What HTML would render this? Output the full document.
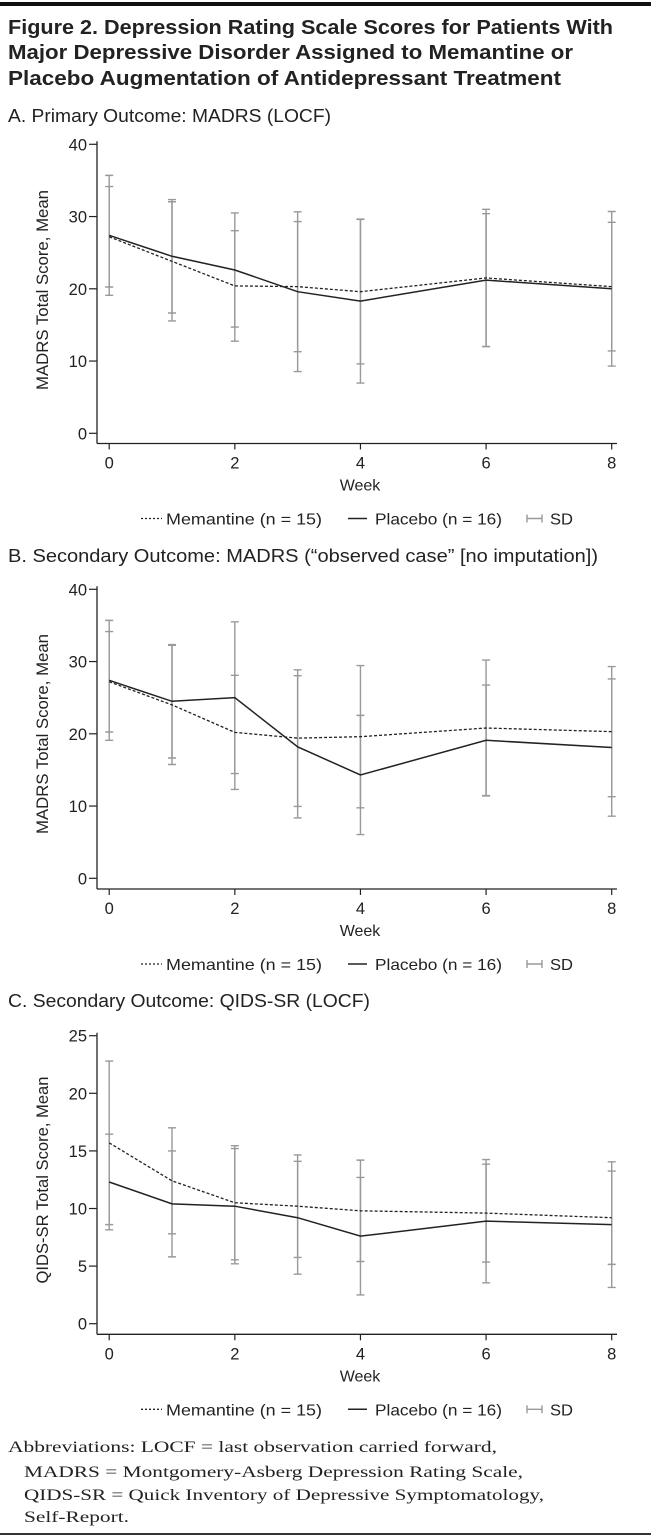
<!DOCTYPE html>
<html><head><meta charset="utf-8"><style>
html,body{margin:0;padding:0;background:#fff;}
svg{display:block;}
text{font-family:"Liberation Sans",sans-serif;fill:#222;}
.serif{font-family:"Liberation Serif",serif;}
</style></head><body>
<svg id="fig" width="661" height="1536" viewBox="0 0 661 1536" xmlns="http://www.w3.org/2000/svg">
<rect x="0" y="2" width="651" height="4" fill="#111"/>
<text x="8" y="34" font-size="20" font-weight="bold" textLength="605" lengthAdjust="spacingAndGlyphs">Figure 2. Depression Rating Scale Scores for Patients With</text>
<text x="8" y="59" font-size="20" font-weight="bold" textLength="565" lengthAdjust="spacingAndGlyphs">Major Depressive Disorder Assigned to Memantine or</text>
<text x="8" y="85" font-size="20" font-weight="bold" textLength="553" lengthAdjust="spacingAndGlyphs">Placebo Augmentation of Antidepressant Treatment</text>
<text x="8" y="122" font-size="18" textLength="323" lengthAdjust="spacingAndGlyphs">A. Primary Outcome: MADRS (LOCF)</text>
<text x="8" y="562" font-size="18" textLength="590" lengthAdjust="spacingAndGlyphs">B. Secondary Outcome: MADRS (“observed case” [no imputation])</text>
<text x="8" y="1007" font-size="18" textLength="362" lengthAdjust="spacingAndGlyphs">C. Secondary Outcome: QIDS-SR (LOCF)</text>
<g>
<text class="serif" x="8" y="1452" font-size="16" textLength="489" lengthAdjust="spacingAndGlyphs">Abbreviations: LOCF = last observation carried forward,</text>
<text class="serif" x="24" y="1477" font-size="16" textLength="499" lengthAdjust="spacingAndGlyphs">MADRS = Montgomery-Asberg Depression Rating Scale,</text>
<text class="serif" x="24" y="1500" font-size="16" textLength="520" lengthAdjust="spacingAndGlyphs">QIDS-SR = Quick Inventory of Depressive Symptomatology,</text>
<text class="serif" x="24" y="1522" font-size="16" textLength="105" lengthAdjust="spacingAndGlyphs">Self-Report.</text>
</g>
<rect x="0" y="1533" width="651" height="2" fill="#333"/>
</svg>
<script>
const weeks = [0,1,2,3,4,6,8];
const xTicks = [0,2,4,6,8];
// Panel A
const aPlacebo = [27.4,24.5,22.6,19.6,18.3,21.2,20.0];
const aMemantine = [27.2,23.8,20.4,20.3,19.6,21.5,20.3];
const aPlaceboSD = [8.3,7.85,7.9,11.05,11.35,9.2,10.7];
const aMemantineSD = [6.95,8.25,7.65,9.0,10.0,9.5,8.9];
const aYTicks = [0,10,20,30,40];
// Panel B
const bPlacebo = [27.4,24.5,25.0,18.2,14.3,19.1,18.1];
const bMemantine = [27.2,24.0,20.2,19.4,19.6,20.8,20.3];
const bPlaceboSD = [8.3,7.85,10.5,9.85,8.25,7.65,9.5];
const bMemantineSD = [6.95,8.25,7.9,9.45,9.85,9.4,9.0];
const bYTicks = [0,10,20,30,40];
// Panel C
const cPlacebo = [12.3,10.4,10.2,9.2,7.6,8.9,8.6];
const cMemantine = [15.7,12.4,10.5,10.2,9.8,9.6,9.2];
const cPlaceboSD = [4.15,4.6,5.0,4.9,5.1,5.35,5.45];
const cMemantineSD = [7.1,4.6,4.95,4.45,4.4,4.25,4.05];
const cYTicks = [0,5,10,15,20,25];

const NS='http://www.w3.org/2000/svg';
const svg=document.getElementById('fig');
function mk(tag,attrs,parent){const e=document.createElementNS(NS,tag);for(const k in attrs)e.setAttribute(k,attrs[k]);(parent||svg).appendChild(e);return e;}

function panel(id,cfg){
  const g=mk('g',{});
  
  
  const x0=97,xEnd=617,xa=109.2,xb=611.7;
  const xs=w=>xa+(w-0)*(xb-xa)/8;
  const ys=v=>cfg.y0+(v-0)*(cfg.yTop-cfg.y0)/cfg.yMax;
  const ya=mk('line',{x1:x0,y1:cfg.yTop-3,x2:x0,y2:cfg.axisY,stroke:'#222','stroke-width':1.3},g);
  
  
  const xaL=mk('line',{x1:x0,y1:cfg.axisY,x2:xEnd,y2:cfg.axisY,stroke:'#222','stroke-width':1.3},g);
  
  
  cfg.yTicks.forEach(t=>{
    mk('line',{x1:89,y1:ys(t),x2:x0,y2:ys(t),stroke:'#222','stroke-width':1.2},g);
    const tx=mk('text',{x:87,y:ys(t)+6,'font-size':16.5,'text-anchor':'end'},g);
    tx.textContent=t;
    
    
  });
  xTicks.forEach(t=>{
    mk('line',{x1:xs(t),y1:cfg.axisY,x2:xs(t),y2:cfg.axisY+6,stroke:'#222','stroke-width':1.2},g);
    const tx=mk('text',{x:xs(t),y:cfg.axisY+25,'font-size':16.5,'text-anchor':'middle'},g);
    tx.textContent=t;
    
    
  });
  const wk=mk('text',{x:360,y:cfg.axisY+47,'font-size':16,'text-anchor':'middle'},g);
  wk.textContent='Week';
  
  
  const yt=mk('text',{x:0,y:0,'font-size':16.5,'text-anchor':'middle',transform:`translate(48,${cfg.titleMid}) rotate(-90)`,textLength:cfg.titleLen,lengthAdjust:'spacingAndGlyphs'},g);
  yt.textContent=cfg.yTitle;
  
  
  [[cfg.mem,cfg.memSD],[cfg.pla,cfg.plaSD]].forEach(([m,s])=>{
    weeks.forEach((w,i)=>{
      const eb=mk('path',{d:`M${xs(w)},${ys(m[i]+s[i])}V${ys(m[i]-s[i])}M${xs(w)-4},${ys(m[i]+s[i])}h8M${xs(w)-4},${ys(m[i]-s[i])}h8`,stroke:'#999','stroke-width':1.4,fill:'none'},g);
      
      
    });
  });
  const pl=mk('polyline',{points:weeks.map((w,i)=>xs(w)+','+ys(cfg.pla[i])).join(' '),fill:'none',stroke:'#222','stroke-width':1.5},g);
  
  
  const ml=mk('polyline',{points:weeks.map((w,i)=>xs(w)+','+ys(cfg.mem[i])).join(' '),fill:'none',stroke:'#222','stroke-width':1.3,'stroke-dasharray':'3,2'},g);
  
  
  const L=cfg.axisY+81;
  const lg=mk('g',{},g);
  
  
  mk('line',{x1:141,y1:L-6,x2:162,y2:L-6,stroke:'#222','stroke-width':1.3,'stroke-dasharray':'2,2'},lg);
  let t=mk('text',{x:166,y:L,'font-size':16,textLength:156,lengthAdjust:'spacingAndGlyphs'},lg);t.textContent='Memantine (n = 15)';
  
  
  mk('line',{x1:348,y1:L-6,x2:367,y2:L-6,stroke:'#222','stroke-width':1.5},lg);
  t=mk('text',{x:375,y:L,'font-size':16,textLength:127,lengthAdjust:'spacingAndGlyphs'},lg);t.textContent='Placebo (n = 16)';
  
  
  mk('path',{d:`M527,${L-10}v8M527,${L-6}h15M542,${L-10}v8`,stroke:'#999','stroke-width':1.4,fill:'none'},lg);
  t=mk('text',{x:550,y:L,'font-size':16,textLength:23,lengthAdjust:'spacingAndGlyphs'},lg);t.textContent='SD';
  
  
}
panel('panel-a',{y0:433.3,yTop:144.3,yMax:40,axisY:443.5,yTicks:aYTicks,pla:aPlacebo,mem:aMemantine,plaSD:aPlaceboSD,memSD:aMemantineSD,yTitle:'MADRS Total Score, Mean',titleMid:290,titleLen:200});
panel('panel-b',{y0:878.3,yTop:589.3,yMax:40,axisY:889,yTicks:bYTicks,pla:bPlacebo,mem:bMemantine,plaSD:bPlaceboSD,memSD:bMemantineSD,yTitle:'MADRS Total Score, Mean',titleMid:734,titleLen:200});
panel('panel-c',{y0:1323.7,yTop:1035.7,yMax:25,axisY:1334.3,yTicks:cYTicks,pla:cPlacebo,mem:cMemantine,plaSD:cPlaceboSD,memSD:cMemantineSD,yTitle:'QIDS-SR Total Score, Mean',titleMid:1180,titleLen:207});
</script>
</body></html>
